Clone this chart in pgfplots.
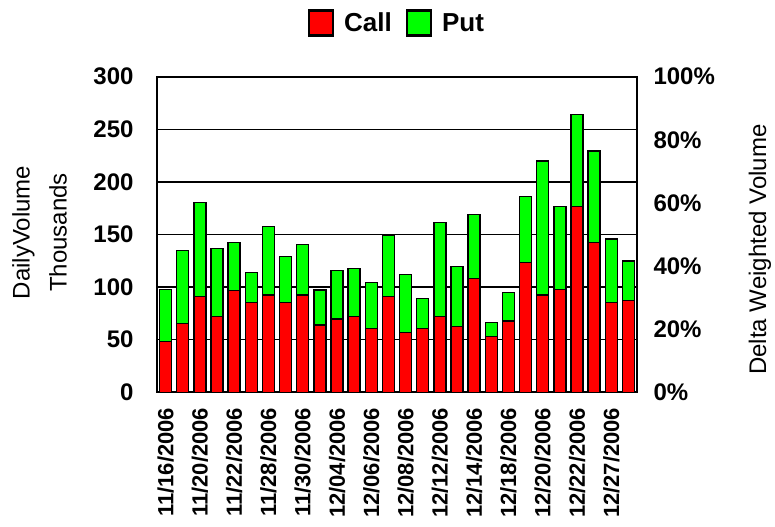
\documentclass[border=0pt]{standalone}
\usepackage{fontspec}
\setmainfont{Liberation Sans}
\usepackage{pgfplots}
\pgfplotsset{compat=1.18}
\begin{document}
\begin{tikzpicture}
\useasboundingbox (0bp,0bp) rectangle (775bp,527bp);
\begin{axis}[
  at={(157bp,134.7bp)}, anchor=south west,
  width=480bp, height=315.6bp, scale only axis,
  ybar stacked, bar width=0.7,
  xmin=-0.5, xmax=27.5, ymin=0, ymax=300,
  ytick={0,50,100,150,200,250,300},
  yticklabels={0,50,100,150,200,250,300},
  xtick={0,2,...,26},
  xticklabels={11/16/2006,11/20/2006,11/22/2006,11/28/2006,11/30/2006,12/04/2006,12/06/2006,12/08/2006,12/12/2006,12/14/2006,12/18/2006,12/20/2006,12/22/2006,12/27/2006},
  major tick length=0,
  axis line style={line width=1.8bp, black},
  ymajorgrids, major grid style={line width=1.5bp, black},
  yticklabel style={font=\fontsize{24bp}{28bp}\selectfont\bfseries},
  xticklabel style={font=\fontsize{22bp}{26bp}\selectfont\bfseries, rotate=90, anchor=east},
  yticklabel shift=20bp,
  xticklabel shift=12bp,
  ylabel={DailyVolume\\Thousands},
  ylabel style={font=\fontsize{24bp}{37bp}\selectfont, align=center, at={([xshift=-117.5bp,yshift=2bp]rel axis cs:0,0.5)}, anchor=center},
  legend columns=2,
  legend style={at={(0.5,1.17)}, anchor=center, draw=none, fill=none,
    font=\fontsize{26bp}{30bp}\selectfont\bfseries,
    /tikz/every odd column/.append style={column sep=8bp},
    /tikz/every even column/.append style={column sep=12bp}},
  legend image code/.code={\draw[#1,line width=2.2bp] (0bp,-12.5bp) rectangle (24bp,12.5bp);},
]
\addplot[fill=red, draw=black, line width=1.5bp] coordinates {
(0,48.1) (1,65.6) (2,90.9) (3,71.9) (4,96.6) (5,85.2) (6,92.5) (7,85.2) (8,92.5) (9,64.0)
(10,69.7) (11,71.9) (12,60.5) (13,90.9) (14,56.7) (15,60.5) (16,71.9) (17,62.4) (18,108.0) (19,52.9)
(20,67.8) (21,123.2) (22,92.5) (23,97.9) (24,176.4) (25,142.2) (26,85.2) (27,87.1)};
\addlegendentry{Call}
\addplot[fill=green, draw=black, line width=1.5bp] coordinates {
(0,49.8) (1,69.0) (2,89.3) (3,64.6) (4,45.6) (5,28.5) (6,64.9) (7,43.7) (8,47.8) (9,33.2)
(10,45.9) (11,45.6) (12,43.7) (13,58.0) (14,55.1) (15,28.5) (16,89.3) (17,57.0) (18,60.8) (19,13.3)
(20,26.9) (21,62.7) (22,127.6) (23,78.5) (24,87.5) (25,87.4) (26,60.5) (27,37.7)};
\addlegendentry{Put}
\draw[gray, line width=1.5bp] ([yshift=-2bp]rel axis cs:0,0) -- ([yshift=-2bp]rel axis cs:1,0);
\end{axis}
\begin{axis}[
  at={(157bp,134.7bp)}, anchor=south west,
  width=480bp, height=315.6bp, scale only axis,
  xmin=-0.5, xmax=27.5, ymin=0, ymax=100,
  axis y line*=right, axis x line=none,
  axis line style={line width=1.8bp, black},
  ytick={0,20,40,60,80,100},
  yticklabels={0\%,20\%,40\%,60\%,80\%,100\%},
  major tick length=0,
  yticklabel style={font=\fontsize{24bp}{28bp}\selectfont\bfseries},
  yticklabel shift=13bp,
  ylabel={Delta Weighted Volume},
  ylabel style={font=\fontsize{24bp}{28bp}\selectfont, at={([xshift=123bp,yshift=-15bp]rel axis cs:1,0.5)}, anchor=center},
]
\addplot[draw=none] coordinates {(0,0)};
\end{axis}
\end{tikzpicture}
\end{document}
